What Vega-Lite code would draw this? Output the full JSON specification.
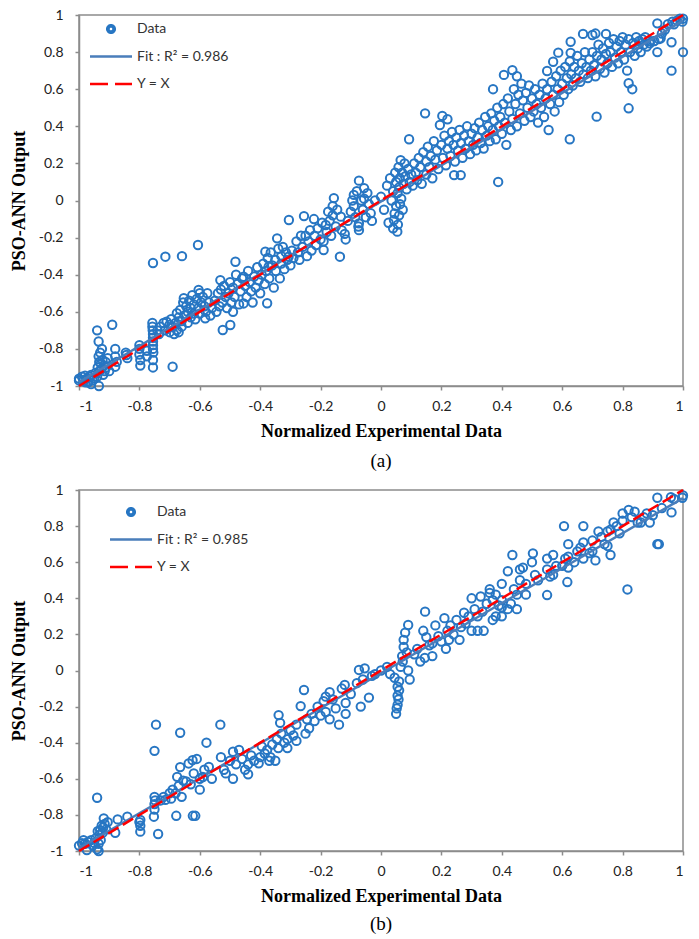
{
  "$schema": "https://vega.github.io/schema/vega-lite/v6.json",
  "background": "white",
  "padding": {"left": 9, "top": 7, "right": 5, "bottom": 5},
  "spacing": 10,
  "resolve": {"scale": {"color": "independent"}, "legend": {"color": "independent"}},
  "config": {
    "view": {"stroke": "#8c8c8c", "strokeWidth": 1.5},
    "axis": {"grid": false, "domainColor": "#8c8c8c", "domainWidth": 1.5, "tickColor": "#8c8c8c", "tickWidth": 1.5, "tickSize": 4, "labelFont": "Lato", "labelFontSize": 14, "labelColor": "#222222", "labelOverlap": false, "titleFont": "Liberation Serif", "titleFontSize": 18, "titleFontWeight": "bold", "titleColor": "#000000"},
    "axisY": {"labelOverlap": false},
    "axisQuantitative": {"labelOverlap": false},
    "title": {"font": "Liberation Serif", "fontSize": 19, "fontWeight": "normal", "color": "#000000"},
    "legend": {"orient": "none", "title": null, "symbolSize": 1764, "clipHeight": 16, "rowPadding": 11.5, "labelOffset": 3.5, "labelFont": "Lato", "labelFontSize": 14, "labelColor": "#333333", "symbolStrokeWidth": 2.5, "padding": 0}
  },
  "datasets": {
    "fitA": [{"x": -1, "y": -0.98}, {"x": 1, "y": 0.97}],
    "idA": [{"x": -1, "y": -1}, {"x": 1, "y": 1}],
    "fitB": [{"x": -1, "y": -0.985}, {"x": 1, "y": 0.955}],
    "idB": [{"x": -1, "y": -1}, {"x": 1, "y": 1}],
    "pointsA": [
      {"x":-1.0,"y":-0.97},{"x":-1.0,"y":-0.96},{"x":-0.99,"y":-0.95},{"x":-0.985,"y":-0.97},{"x":-0.98,"y":-0.945},{"x":-0.975,"y":-0.96},{"x":-0.97,"y":-0.98},{"x":-0.965,"y":-0.95},{"x":-0.96,"y":-0.94},{"x":-0.955,"y":-0.97},{"x":-0.95,"y":-0.96},{"x":-0.945,"y":-0.93},{"x":-0.94,"y":-0.95},{"x":-0.94,"y":-0.70},{"x":-0.938,"y":-0.90},{"x":-0.935,"y":-0.76},{"x":-0.935,"y":-0.84},{"x":-0.934,"y":-1.0},{"x":-0.933,"y":-0.87},{"x":-0.932,"y":-0.92},{"x":-0.93,"y":-0.82},{"x":-0.928,"y":-0.88},{"x":-0.926,"y":-0.91},{"x":-0.924,"y":-0.80},{"x":-0.922,"y":-0.86},{"x":-0.92,"y":-0.94},{"x":-0.918,"y":-0.89},{"x":-0.915,"y":-0.92},{"x":-0.912,"y":-0.87},{"x":-0.91,"y":-0.90},{"x":-0.905,"y":-0.85},{"x":-0.90,"y":-0.92},{"x":-0.96,"y":-0.99},{"x":-0.978,"y":-0.98},
      {"x":-0.89,"y":-0.67},{"x":-0.88,"y":-0.80},{"x":-0.88,"y":-0.84},{"x":-0.88,"y":-0.896},{"x":-0.875,"y":-0.87},{"x":-0.845,"y":-0.82},{"x":-0.84,"y":-0.85},{"x":-0.843,"y":-0.833},
      {"x":-0.80,"y":-0.78},{"x":-0.80,"y":-0.80},{"x":-0.80,"y":-0.83},{"x":-0.797,"y":-0.86},{"x":-0.797,"y":-0.89},{"x":-0.775,"y":-0.84},{"x":-0.775,"y":-0.81},{"x":-0.757,"y":-0.66},{"x":-0.757,"y":-0.68},{"x":-0.756,"y":-0.70},{"x":-0.755,"y":-0.72},{"x":-0.755,"y":-0.74},{"x":-0.755,"y":-0.76},{"x":-0.755,"y":-0.78},{"x":-0.755,"y":-0.80},{"x":-0.754,"y":-0.82},{"x":-0.755,"y":-0.86},{"x":-0.755,"y":-0.90},{"x":-0.755,"y":-0.337},{"x":-0.714,"y":-0.303},{"x":-0.659,"y":-0.30},{"x":-0.606,"y":-0.24},{"x":-0.69,"y":-0.896},
      {"x":-0.74,"y":-0.70},{"x":-0.735,"y":-0.72},{"x":-0.73,"y":-0.68},{"x":-0.72,"y":-0.66},{"x":-0.715,"y":-0.70},{"x":-0.71,"y":-0.653},{"x":-0.70,"y":-0.67},{"x":-0.70,"y":-0.71},{"x":-0.695,"y":-0.64},{"x":-0.69,"y":-0.68},{"x":-0.685,"y":-0.72},{"x":-0.68,"y":-0.66},{"x":-0.676,"y":-0.608},{"x":-0.676,"y":-0.698},{"x":-0.67,"y":-0.63},{"x":-0.67,"y":-0.71},{"x":-0.665,"y":-0.59},{"x":-0.66,"y":-0.65},{"x":-0.66,"y":-0.68},{"x":-0.655,"y":-0.55},{"x":-0.653,"y":-0.527},{"x":-0.65,"y":-0.62},{"x":-0.645,"y":-0.57},{"x":-0.64,"y":-0.60},{"x":-0.64,"y":-0.66},{"x":-0.635,"y":-0.54},{"x":-0.63,"y":-0.63},{"x":-0.63,"y":-0.58},{"x":-0.625,"y":-0.51},{"x":-0.62,"y":-0.56},{"x":-0.62,"y":-0.61},{"x":-0.615,"y":-0.64},{"x":-0.61,"y":-0.53},{"x":-0.605,"y":-0.58},{"x":-0.604,"y":-0.482},{"x":-0.60,"y":-0.50},{"x":-0.60,"y":-0.61},{"x":-0.595,"y":-0.55},{"x":-0.59,"y":-0.52},{"x":-0.585,"y":-0.57},{"x":-0.582,"y":-0.635},{"x":-0.58,"y":-0.60},{"x":-0.575,"y":-0.50},{"x":-0.57,"y":-0.55},{"x":-0.565,"y":-0.62},{"x":-0.56,"y":-0.58},
      {"x":-0.55,"y":-0.54},{"x":-0.545,"y":-0.60},{"x":-0.54,"y":-0.50},{"x":-0.535,"y":-0.57},{"x":-0.532,"y":-0.429},{"x":-0.53,"y":-0.48},{"x":-0.525,"y":-0.55},{"x":-0.524,"y":-0.698},{"x":-0.52,"y":-0.46},{"x":-0.515,"y":-0.52},{"x":-0.51,"y":-0.58},{"x":-0.505,"y":-0.50},{"x":-0.50,"y":-0.44},{"x":-0.499,"y":-0.671},{"x":-0.495,"y":-0.55},{"x":-0.49,"y":-0.47},{"x":-0.49,"y":-0.60},{"x":-0.485,"y":-0.52},{"x":-0.482,"y":-0.33},{"x":-0.48,"y":-0.40},{"x":-0.475,"y":-0.45},{"x":-0.47,"y":-0.56},{"x":-0.465,"y":-0.49},{"x":-0.46,"y":-0.42},{"x":-0.455,"y":-0.411},{"x":-0.455,"y":-0.555},{"x":-0.45,"y":-0.46},{"x":-0.445,"y":-0.52},{"x":-0.44,"y":-0.38},{"x":-0.435,"y":-0.44},{"x":-0.43,"y":-0.49},{"x":-0.425,"y":-0.55},{"x":-0.42,"y":-0.41},{"x":-0.415,"y":-0.47},{"x":-0.41,"y":-0.36},{"x":-0.405,"y":-0.43},{"x":-0.40,"y":-0.50},
      {"x":-0.395,"y":-0.40},{"x":-0.39,"y":-0.34},{"x":-0.385,"y":-0.45},{"x":-0.383,"y":-0.276},{"x":-0.38,"y":-0.38},{"x":-0.377,"y":-0.554},{"x":-0.375,"y":-0.31},{"x":-0.372,"y":-0.357},{"x":-0.37,"y":-0.42},{"x":-0.365,"y":-0.28},{"x":-0.36,"y":-0.35},{"x":-0.355,"y":-0.47},{"x":-0.35,"y":-0.32},{"x":-0.348,"y":-0.38},{"x":-0.344,"y":-0.204},{"x":-0.34,"y":-0.26},{"x":-0.335,"y":-0.42},{"x":-0.33,"y":-0.30},{"x":-0.33,"y":-0.34},{"x":-0.325,"y":-0.25},{"x":-0.32,"y":-0.37},{"x":-0.315,"y":-0.28},{"x":-0.31,"y":-0.32},{"x":-0.306,"y":-0.303},{"x":-0.305,"y":-0.105},{"x":-0.30,"y":-0.35},{"x":-0.295,"y":-0.27},{"x":-0.29,"y":-0.31},
      {"x":-0.28,"y":-0.22},{"x":-0.275,"y":-0.28},{"x":-0.27,"y":-0.32},{"x":-0.265,"y":-0.19},{"x":-0.26,"y":-0.25},{"x":-0.255,"y":-0.084},{"x":-0.25,"y":-0.19},{"x":-0.245,"y":-0.30},{"x":-0.24,"y":-0.22},{"x":-0.235,"y":-0.16},{"x":-0.23,"y":-0.27},{"x":-0.222,"y":-0.10},{"x":-0.22,"y":-0.19},{"x":-0.215,"y":-0.24},{"x":-0.21,"y":-0.15},{"x":-0.20,"y":-0.21},{"x":-0.195,"y":-0.12},{"x":-0.19,"y":-0.267},{"x":-0.19,"y":-0.22},{"x":-0.183,"y":-0.132},{"x":-0.18,"y":-0.17},{"x":-0.175,"y":-0.06},{"x":-0.17,"y":-0.11},{"x":-0.165,"y":-0.19},{"x":-0.16,"y":-0.08},{"x":-0.16,"y":-0.03},{"x":-0.156,"y":0.013},{"x":-0.15,"y":-0.14},
      {"x":-0.145,"y":-0.05},{"x":-0.136,"y":-0.303},{"x":-0.133,"y":-0.087},{"x":-0.13,"y":-0.16},{"x":-0.12,"y":-0.18},{"x":-0.117,"y":-0.21},{"x":-0.11,"y":-0.11},{"x":-0.10,"y":-0.06},{"x":-0.095,"y":0.0},{"x":-0.09,"y":0.03},{"x":-0.09,"y":-0.03},{"x":-0.085,"y":-0.09},{"x":-0.08,"y":0.05},{"x":-0.075,"y":-0.14},{"x":-0.073,"y":0.107},{"x":-0.073,"y":-0.123},{"x":-0.073,"y":-0.16},{"x":-0.065,"y":0.0},{"x":-0.06,"y":-0.05},{"x":-0.056,"y":0.067},{"x":-0.056,"y":0.01},{"x":-0.05,"y":-0.09},{"x":-0.045,"y":0.04},{"x":-0.04,"y":-0.02},{"x":-0.034,"y":-0.069},{"x":-0.03,"y":-0.11},{"x":-0.02,"y":0.0},
      {"x":0.0,"y":0.02},{"x":0.01,"y":-0.05},{"x":0.02,"y":0.08},{"x":0.025,"y":-0.12},{"x":0.03,"y":0.12},{"x":0.035,"y":0.0},{"x":0.04,"y":-0.15},{"x":0.04,"y":0.05},{"x":0.043,"y":-0.105},{"x":0.045,"y":-0.07},{"x":0.047,"y":0.15},{"x":0.05,"y":-0.03},{"x":0.05,"y":0.10},{"x":0.054,"y":-0.168},{"x":0.055,"y":0.04},{"x":0.056,"y":-0.13},{"x":0.058,"y":0.18},{"x":0.06,"y":-0.08},{"x":0.06,"y":0.07},{"x":0.062,"y":0.12},{"x":0.063,"y":-0.02},{"x":0.065,"y":0.218},{"x":0.067,"y":0.01},{"x":0.07,"y":0.15},{"x":0.072,"y":-0.05},{"x":0.075,"y":0.09},{"x":0.078,"y":0.20},{"x":0.08,"y":0.13},{"x":0.085,"y":0.06},{"x":0.09,"y":0.17},{"x":0.093,"y":0.33},{"x":0.095,"y":0.10},{"x":0.10,"y":0.14},
      {"x":0.105,"y":0.08},{"x":0.11,"y":0.20},{"x":0.115,"y":0.15},{"x":0.12,"y":0.11},{"x":0.125,"y":0.23},{"x":0.13,"y":0.18},{"x":0.135,"y":0.09},{"x":0.14,"y":0.26},{"x":0.146,"y":0.47},{"x":0.15,"y":0.14},{"x":0.15,"y":0.21},{"x":0.155,"y":0.29},{"x":0.16,"y":0.18},{"x":0.165,"y":0.24},{"x":0.17,"y":0.12},{"x":0.175,"y":0.32},{"x":0.18,"y":0.22},{"x":0.185,"y":0.27},{"x":0.19,"y":0.17},{"x":0.195,"y":0.407},{"x":0.20,"y":0.30},{"x":0.203,"y":0.456},{"x":0.205,"y":0.23},{"x":0.21,"y":0.35},{"x":0.215,"y":0.19},{"x":0.22,"y":0.438},{"x":0.22,"y":0.28},{"x":0.225,"y":0.32},{"x":0.23,"y":0.24},{"x":0.235,"y":0.37},{"x":0.24,"y":0.30},{"x":0.242,"y":0.137},{"x":0.245,"y":0.21},{"x":0.25,"y":0.34},{"x":0.255,"y":0.27},{"x":0.26,"y":0.38},{"x":0.264,"y":0.137},{"x":0.265,"y":0.31},{"x":0.27,"y":0.23},{"x":0.275,"y":0.35},{"x":0.28,"y":0.28},{"x":0.285,"y":0.40},{"x":0.29,"y":0.32},{"x":0.295,"y":0.25},{"x":0.30,"y":0.36},
      {"x":0.305,"y":0.30},{"x":0.31,"y":0.39},{"x":0.315,"y":0.27},{"x":0.32,"y":0.34},{"x":0.325,"y":0.42},{"x":0.33,"y":0.31},{"x":0.335,"y":0.38},{"x":0.34,"y":0.28},{"x":0.345,"y":0.45},{"x":0.35,"y":0.35},{"x":0.355,"y":0.40},{"x":0.36,"y":0.32},{"x":0.365,"y":0.47},{"x":0.37,"y":0.38},{"x":0.371,"y":0.60},{"x":0.375,"y":0.43},{"x":0.38,"y":0.33},{"x":0.388,"y":0.10},{"x":0.385,"y":0.50},{"x":0.39,"y":0.40},{"x":0.395,"y":0.45},{"x":0.40,"y":0.36},{"x":0.405,"y":0.52},{"x":0.407,"y":0.677},{"x":0.41,"y":0.42},{"x":0.415,"y":0.30},{"x":0.42,"y":0.55},{"x":0.425,"y":0.48},{"x":0.43,"y":0.38},{"x":0.435,"y":0.703},{"x":0.435,"y":0.44},{"x":0.44,"y":0.60},{"x":0.445,"y":0.52},{"x":0.45,"y":0.67},{"x":0.45,"y":0.40},{"x":0.455,"y":0.57},{"x":0.46,"y":0.47},{"x":0.465,"y":0.63},{"x":0.47,"y":0.54},{"x":0.475,"y":0.43},{"x":0.48,"y":0.58},{"x":0.485,"y":0.50},{"x":0.49,"y":0.62},{"x":0.495,"y":0.45},{"x":0.50,"y":0.55},
      {"x":0.505,"y":0.48},{"x":0.51,"y":0.60},{"x":0.515,"y":0.52},{"x":0.52,"y":0.42},{"x":0.525,"y":0.57},{"x":0.53,"y":0.50},{"x":0.535,"y":0.63},{"x":0.54,"y":0.45},{"x":0.545,"y":0.55},{"x":0.55,"y":0.698},{"x":0.55,"y":0.60},{"x":0.555,"y":0.38},{"x":0.56,"y":0.52},{"x":0.565,"y":0.64},{"x":0.57,"y":0.748},{"x":0.57,"y":0.57},{"x":0.575,"y":0.48},{"x":0.58,"y":0.67},{"x":0.585,"y":0.60},{"x":0.587,"y":0.797},{"x":0.59,"y":0.53},{"x":0.595,"y":0.70},{"x":0.60,"y":0.63},{"x":0.605,"y":0.57},{"x":0.61,"y":0.72},{"x":0.615,"y":0.66},{"x":0.62,"y":0.60},{"x":0.625,"y":0.33},{"x":0.625,"y":0.75},{"x":0.628,"y":0.856},{"x":0.628,"y":0.796},{"x":0.63,"y":0.68},{"x":0.635,"y":0.62},{"x":0.64,"y":0.72},{"x":0.645,"y":0.66},{"x":0.65,"y":0.78},{"x":0.655,"y":0.70},{"x":0.66,"y":0.64},{"x":0.665,"y":0.74},{"x":0.669,"y":0.898},{"x":0.67,"y":0.68},{"x":0.675,"y":0.80},{"x":0.68,"y":0.72},{"x":0.685,"y":0.66},{"x":0.69,"y":0.76},{"x":0.695,"y":0.70},{"x":0.70,"y":0.892},{"x":0.70,"y":0.80},
      {"x":0.705,"y":0.73},{"x":0.71,"y":0.90},{"x":0.71,"y":0.67},{"x":0.714,"y":0.452},{"x":0.715,"y":0.78},{"x":0.72,"y":0.84},{"x":0.725,"y":0.71},{"x":0.73,"y":0.76},{"x":0.735,"y":0.82},{"x":0.74,"y":0.69},{"x":0.745,"y":0.898},{"x":0.745,"y":0.79},{"x":0.75,"y":0.74},{"x":0.755,"y":0.85},{"x":0.76,"y":0.80},{"x":0.765,"y":0.72},{"x":0.77,"y":0.87},{"x":0.775,"y":0.77},{"x":0.78,"y":0.83},{"x":0.785,"y":0.74},{"x":0.79,"y":0.86},{"x":0.795,"y":0.80},{"x":0.80,"y":0.88},{"x":0.805,"y":0.76},{"x":0.81,"y":0.84},{"x":0.815,"y":0.70},{"x":0.82,"y":0.497},{"x":0.82,"y":0.632},{"x":0.82,"y":0.87},{"x":0.825,"y":0.80},{"x":0.832,"y":0.60},{"x":0.835,"y":0.85},{"x":0.84,"y":0.78},{"x":0.845,"y":0.88},{"x":0.85,"y":0.82},{"x":0.855,"y":0.86},{"x":0.86,"y":0.80},{"x":0.865,"y":0.87},{"x":0.87,"y":0.84},{"x":0.875,"y":0.88},{"x":0.88,"y":0.83},{"x":0.89,"y":0.847},{"x":0.89,"y":0.86},
      {"x":0.905,"y":0.86},{"x":0.915,"y":0.955},{"x":0.915,"y":0.80},{"x":0.92,"y":0.87},{"x":0.926,"y":0.874},{"x":0.93,"y":0.90},{"x":0.94,"y":0.92},{"x":0.95,"y":0.95},{"x":0.962,"y":0.70},{"x":0.962,"y":0.853},{"x":0.965,"y":0.964},{"x":0.97,"y":0.95},{"x":0.98,"y":0.97},{"x":0.99,"y":0.98},{"x":0.998,"y":0.964},{"x":1.0,"y":0.80},{"x":1.0,"y":0.98}
    ],
    "pointsB": [
      {"x":-1.0,"y":-0.97},{"x":-0.99,"y":-0.957},{"x":-0.985,"y":-0.94},{"x":-0.98,"y":-0.96},{"x":-0.974,"y":-0.995},{"x":-0.97,"y":-0.95},{"x":-0.96,"y":-0.94},{"x":-0.955,"y":-0.97},{"x":-0.95,"y":-0.955},{"x":-0.945,"y":-0.93},{"x":-0.94,"y":-0.99},{"x":-0.94,"y":-0.705},{"x":-0.938,"y":-0.89},{"x":-0.935,"y":-0.96},{"x":-0.932,"y":-0.91},{"x":-0.93,"y":-0.884},{"x":-0.928,"y":-0.94},{"x":-0.925,"y":-0.86},{"x":-0.922,"y":-0.90},{"x":-0.92,"y":-0.87},{"x":-0.918,"y":-0.819},{"x":-0.915,"y":-0.85},{"x":-0.91,"y":-0.88},{"x":-0.905,"y":-0.84},{"x":-0.935,"y":-1.0},
      {"x":-0.88,"y":-0.899},{"x":-0.872,"y":-0.825},{"x":-0.84,"y":-0.81},{"x":-0.797,"y":-0.828},{"x":-0.797,"y":-0.86},{"x":-0.797,"y":-0.893},{"x":-0.80,"y":-0.84},{"x":-0.738,"y":-0.906},{"x":-0.75,"y":-0.70},{"x":-0.75,"y":-0.74},{"x":-0.75,"y":-0.77},{"x":-0.752,"y":-0.81},{"x":-0.748,"y":-0.72},{"x":-0.745,"y":-0.30},{"x":-0.75,"y":-0.445},{"x":-0.665,"y":-0.345},{"x":-0.578,"y":-0.40},{"x":-0.532,"y":-0.30},{"x":-0.678,"y":-0.805},{"x":-0.623,"y":-0.805},{"x":-0.615,"y":-0.805},
      {"x":-0.73,"y":-0.72},{"x":-0.72,"y":-0.70},{"x":-0.714,"y":-0.717},{"x":-0.70,"y":-0.68},{"x":-0.695,"y":-0.71},{"x":-0.69,"y":-0.66},{"x":-0.68,"y":-0.68},{"x":-0.675,"y":-0.589},{"x":-0.67,"y":-0.64},{"x":-0.665,"y":-0.535},{"x":-0.66,"y":-0.70},{"x":-0.655,"y":-0.61},{"x":-0.645,"y":-0.615},{"x":-0.637,"y":-0.515},{"x":-0.63,"y":-0.63},{"x":-0.624,"y":-0.497},{"x":-0.62,"y":-0.57},{"x":-0.61,"y":-0.49},{"x":-0.60,"y":-0.66},{"x":-0.60,"y":-0.60},{"x":-0.59,"y":-0.59},{"x":-0.585,"y":-0.55},{"x":-0.57,"y":-0.534},{"x":-0.56,"y":-0.60},
      {"x":-0.53,"y":-0.48},{"x":-0.52,"y":-0.55},{"x":-0.514,"y":-0.57},{"x":-0.50,"y":-0.50},{"x":-0.49,"y":-0.60},{"x":-0.49,"y":-0.45},{"x":-0.48,"y":-0.52},{"x":-0.47,"y":-0.44},{"x":-0.46,"y":-0.49},{"x":-0.45,"y":-0.55},{"x":-0.44,"y":-0.52},{"x":-0.44,"y":-0.575},{"x":-0.43,"y":-0.47},{"x":-0.42,"y":-0.50},{"x":-0.405,"y":-0.514},{"x":-0.40,"y":-0.48},{"x":-0.395,"y":-0.42},
      {"x":-0.385,"y":-0.46},{"x":-0.377,"y":-0.44},{"x":-0.37,"y":-0.50},{"x":-0.366,"y":-0.48},{"x":-0.36,"y":-0.41},{"x":-0.35,"y":-0.50},{"x":-0.345,"y":-0.38},{"x":-0.34,"y":-0.43},{"x":-0.339,"y":-0.247},{"x":-0.334,"y":-0.29},{"x":-0.33,"y":-0.35},{"x":-0.32,"y":-0.40},{"x":-0.31,"y":-0.43},{"x":-0.31,"y":-0.38},{"x":-0.30,"y":-0.33},{"x":-0.29,"y":-0.36},{"x":-0.28,"y":-0.39},{"x":-0.28,"y":-0.30},
      {"x":-0.266,"y":-0.197},{"x":-0.255,"y":-0.108},{"x":-0.25,"y":-0.35},{"x":-0.245,"y":-0.27},{"x":-0.238,"y":-0.32},{"x":-0.23,"y":-0.24},{"x":-0.22,"y":-0.28},{"x":-0.21,"y":-0.20},{"x":-0.20,"y":-0.25},{"x":-0.19,"y":-0.17},{"x":-0.183,"y":-0.145},{"x":-0.183,"y":-0.23},{"x":-0.17,"y":-0.12},{"x":-0.17,"y":-0.27},{"x":-0.16,"y":-0.16},{"x":-0.15,"y":-0.21},{"x":-0.139,"y":-0.30},{"x":-0.13,"y":-0.10},{"x":-0.12,"y":-0.08},{"x":-0.117,"y":-0.18},{"x":-0.117,"y":-0.24},{"x":-0.10,"y":-0.13},
      {"x":-0.08,"y":-0.07},{"x":-0.073,"y":0.003},{"x":-0.067,"y":-0.20},{"x":-0.06,"y":-0.05},{"x":-0.054,"y":0.012},{"x":-0.04,"y":-0.15},{"x":-0.03,"y":-0.03},{"x":-0.02,"y":-0.02},{"x":0.0,"y":0.0},{"x":0.02,"y":0.02},{"x":0.03,"y":-0.02},
      {"x":0.045,"y":-0.04},{"x":0.05,"y":-0.24},{"x":0.052,"y":-0.21},{"x":0.055,"y":-0.19},{"x":0.055,"y":-0.14},{"x":0.055,"y":-0.09},{"x":0.058,"y":-0.16},{"x":0.06,"y":-0.11},{"x":0.06,"y":-0.06},{"x":0.065,"y":0.02},{"x":0.07,"y":0.08},{"x":0.072,"y":0.05},{"x":0.075,"y":0.13},{"x":0.075,"y":0.17},{"x":0.08,"y":0.21},{"x":0.09,"y":0.252},{"x":0.09,"y":0.0},{"x":0.095,"y":-0.05},{"x":0.085,"y":0.10},
      {"x":0.11,"y":0.09},{"x":0.12,"y":0.12},{"x":0.13,"y":0.05},{"x":0.14,"y":0.22},{"x":0.145,"y":0.07},{"x":0.146,"y":0.326},{"x":0.15,"y":0.185},{"x":0.16,"y":0.14},{"x":0.17,"y":0.15},{"x":0.17,"y":0.08},{"x":0.18,"y":0.25},{"x":0.19,"y":0.19},{"x":0.20,"y":0.16},{"x":0.21,"y":0.29},{"x":0.215,"y":0.12},{"x":0.22,"y":0.22},{"x":0.225,"y":0.17},{"x":0.23,"y":0.25},{"x":0.24,"y":0.20},{"x":0.25,"y":0.28},{"x":0.26,"y":0.17},{"x":0.265,"y":0.24},{"x":0.275,"y":0.32},{"x":0.28,"y":0.26},{"x":0.29,"y":0.30},{"x":0.30,"y":0.22},{"x":0.30,"y":0.40},
      {"x":0.31,"y":0.34},{"x":0.32,"y":0.30},{"x":0.32,"y":0.22},{"x":0.33,"y":0.41},{"x":0.336,"y":0.326},{"x":0.34,"y":0.22},{"x":0.35,"y":0.37},{"x":0.36,"y":0.45},{"x":0.36,"y":0.43},{"x":0.37,"y":0.28},{"x":0.37,"y":0.39},{"x":0.38,"y":0.42},{"x":0.38,"y":0.30},{"x":0.39,"y":0.36},{"x":0.40,"y":0.48},{"x":0.40,"y":0.39},{"x":0.40,"y":0.35},{"x":0.40,"y":0.30},{"x":0.42,"y":0.55},{"x":0.42,"y":0.34},{"x":0.43,"y":0.37},{"x":0.435,"y":0.64},{"x":0.44,"y":0.45},{"x":0.45,"y":0.42},{"x":0.45,"y":0.34},{"x":0.46,"y":0.56},{"x":0.46,"y":0.50},{"x":0.47,"y":0.57},{"x":0.48,"y":0.48},{"x":0.48,"y":0.42},{"x":0.50,"y":0.60},{"x":0.503,"y":0.649},
      {"x":0.51,"y":0.53},{"x":0.52,"y":0.50},{"x":0.55,"y":0.62},{"x":0.55,"y":0.56},{"x":0.55,"y":0.418},{"x":0.56,"y":0.52},{"x":0.57,"y":0.64},{"x":0.57,"y":0.53},{"x":0.58,"y":0.58},{"x":0.60,"y":0.58},{"x":0.606,"y":0.80},{"x":0.61,"y":0.62},{"x":0.617,"y":0.49},{"x":0.62,"y":0.70},{"x":0.62,"y":0.63},{"x":0.62,"y":0.57},{"x":0.64,"y":0.60},{"x":0.65,"y":0.66},{"x":0.66,"y":0.68},{"x":0.67,"y":0.71},{"x":0.67,"y":0.62},{"x":0.67,"y":0.80},{"x":0.69,"y":0.65},{"x":0.70,"y":0.66},{"x":0.70,"y":0.72},
      {"x":0.71,"y":0.61},{"x":0.72,"y":0.77},{"x":0.73,"y":0.74},{"x":0.74,"y":0.70},{"x":0.75,"y":0.77},{"x":0.75,"y":0.69},{"x":0.76,"y":0.64},{"x":0.76,"y":0.78},{"x":0.77,"y":0.82},{"x":0.78,"y":0.80},{"x":0.79,"y":0.76},{"x":0.80,"y":0.87},{"x":0.80,"y":0.83},{"x":0.816,"y":0.449},{"x":0.82,"y":0.89},{"x":0.83,"y":0.85},{"x":0.84,"y":0.88},{"x":0.85,"y":0.82},{"x":0.86,"y":0.82},{"x":0.87,"y":0.85},{"x":0.88,"y":0.87},{"x":0.89,"y":0.82},{"x":0.90,"y":0.86},{"x":0.915,"y":0.957},{"x":0.915,"y":0.70},{"x":0.92,"y":0.70},{"x":0.93,"y":0.90},{"x":0.96,"y":0.96},{"x":0.962,"y":0.876},{"x":0.97,"y":0.95},{"x":0.998,"y":0.957},{"x":1.0,"y":0.97}
    ]
  },
  "vconcat": [
    {
      "width": 604, "height": 371,
      "title": {"text": "(a)", "orient": "bottom", "offset": 12},
      "encoding": {
        "x": {"field": "x", "type": "quantitative", "scale": {"domain": [-1, 1], "nice": false, "zero": false},
              "axis": {"title": "Normalized Experimental Data", "values": [-1, -0.8, -0.6, -0.4, -0.2, 0, 0.2, 0.4, 0.6, 0.8, 1], "labelOverlap": false, "labelPadding": 9, "titlePadding": 9,
                       "labelExpr": "datum.value == 0 ? '0' : (datum.value < 0 ? '-' : '') + format(abs(datum.value), '~g')"}},
        "y": {"field": "y", "type": "quantitative", "scale": {"domain": [-1, 1], "nice": false, "zero": false},
              "axis": {"title": "PSO-ANN Output", "values": [-1, -0.8, -0.6, -0.4, -0.2, 0, 0.2, 0.4, 0.6, 0.8, 1], "labelOverlap": false, "labelPadding": 12, "titlePadding": 10,
                       "labelExpr": "datum.value == 0 ? '0' : (datum.value < 0 ? '-' : '') + format(abs(datum.value), '~g')"}}
      },
      "layer": [
        {
          "data": {"name": "pointsA"},
          "mark": {"type": "point", "shape": "circle", "filled": false, "size": 70, "strokeWidth": 2, "opacity": 1},
          "encoding": {
            "color": {"datum": "Data", "type": "nominal",
                      "scale": {"domain": ["Data", "Fit :  R² = 0.986", "Y = X"], "range": ["#2776C3", "#4A7EBB", "#FF0000"]},
                      "legend": {"legendX": 9.5, "legendY": 6,
                                 "encode": {"symbols": {"update": {
                                   "shape": {"signal": "datum.value === 'Data' ? 'M0.18,0A0.18,0.18 0 1 1 -0.18,0A0.18,0.18 0 1 1 0.18,0ZM0.12,0A0.12,0.12 0 1 0 -0.12,0A0.12,0.12 0 1 0 0.12,0Z' : 'stroke'"},
                                   "fill": {"signal": "datum.value === 'Data' ? '#5B9BD5' : 'transparent'"},
                                   "stroke": {"signal": "datum.value === 'Data' ? 'transparent' : (datum.value === 'Y = X' ? '#FF0000' : '#4A7EBB')"},
                                   "strokeDash": {"signal": "datum.value === 'Y = X' ? [18, 7] : [1, 0]"},
                                   "opacity": {"value": 1}
                                 }}}}}
          }
        },
        {
          "data": {"name": "fitA"},
          "mark": {"type": "line", "strokeWidth": 2.5},
          "encoding": {"color": {"datum": "Fit :  R² = 0.986", "type": "nominal",
                                 "legend": {"legendX": 9.5, "legendY": 6,
                                 "encode": {"symbols": {"update": {
                                   "shape": {"signal": "datum.value === 'Data' ? 'M0.18,0A0.18,0.18 0 1 1 -0.18,0A0.18,0.18 0 1 1 0.18,0ZM0.12,0A0.12,0.12 0 1 0 -0.12,0A0.12,0.12 0 1 0 0.12,0Z' : 'stroke'"},
                                   "fill": {"signal": "datum.value === 'Data' ? '#5B9BD5' : 'transparent'"},
                                   "stroke": {"signal": "datum.value === 'Data' ? 'transparent' : (datum.value === 'Y = X' ? '#FF0000' : '#4A7EBB')"},
                                   "strokeDash": {"signal": "datum.value === 'Y = X' ? [18, 7] : [1, 0]"},
                                   "opacity": {"value": 1}
                                 }}}}}}
        },
        {
          "data": {"name": "idA"},
          "mark": {"type": "line", "strokeWidth": 2.5, "strokeDash": [12, 5]},
          "encoding": {"color": {"datum": "Y = X", "type": "nominal",
                                 "legend": {"legendX": 9.5, "legendY": 6,
                                 "encode": {"symbols": {"update": {
                                   "shape": {"signal": "datum.value === 'Data' ? 'M0.18,0A0.18,0.18 0 1 1 -0.18,0A0.18,0.18 0 1 1 0.18,0ZM0.12,0A0.12,0.12 0 1 0 -0.12,0A0.12,0.12 0 1 0 0.12,0Z' : 'stroke'"},
                                   "fill": {"signal": "datum.value === 'Data' ? '#5B9BD5' : 'transparent'"},
                                   "stroke": {"signal": "datum.value === 'Data' ? 'transparent' : (datum.value === 'Y = X' ? '#FF0000' : '#4A7EBB')"},
                                   "strokeDash": {"signal": "datum.value === 'Y = X' ? [18, 7] : [1, 0]"},
                                   "opacity": {"value": 1}
                                 }}}}}}
        }
      ]
    },
    {
      "width": 604, "height": 361,
      "title": {"text": "(b)", "orient": "bottom", "offset": 10},
      "encoding": {
        "x": {"field": "x", "type": "quantitative", "scale": {"domain": [-1, 1], "nice": false, "zero": false},
              "axis": {"title": "Normalized Experimental Data", "values": [-1, -0.8, -0.6, -0.4, -0.2, 0, 0.2, 0.4, 0.6, 0.8, 1], "labelOverlap": false, "labelPadding": 9, "titlePadding": 9,
                       "labelExpr": "datum.value == 0 ? '0' : (datum.value < 0 ? '-' : '') + format(abs(datum.value), '~g')"}},
        "y": {"field": "y", "type": "quantitative", "scale": {"domain": [-1, 1], "nice": false, "zero": false},
              "axis": {"title": "PSO-ANN Output", "values": [-1, -0.8, -0.6, -0.4, -0.2, 0, 0.2, 0.4, 0.6, 0.8, 1], "labelOverlap": false, "labelPadding": 12, "titlePadding": 10,
                       "labelExpr": "datum.value == 0 ? '0' : (datum.value < 0 ? '-' : '') + format(abs(datum.value), '~g')"}}
      },
      "layer": [
        {
          "data": {"name": "pointsB"},
          "mark": {"type": "point", "shape": "circle", "filled": false, "size": 70, "strokeWidth": 2, "opacity": 1},
          "encoding": {
            "color": {"datum": "Data", "type": "nominal",
                      "scale": {"domain": ["Data", "Fit :  R² = 0.985", "Y = X"], "range": ["#2776C3", "#4A7EBB", "#FF0000"]},
                      "legend": {"legendX": 29.5, "legendY": 14,
                                 "encode": {"symbols": {"update": {
                                   "shape": {"signal": "datum.value === 'Data' ? 'M0.18,0A0.18,0.18 0 1 1 -0.18,0A0.18,0.18 0 1 1 0.18,0ZM0.12,0A0.12,0.12 0 1 0 -0.12,0A0.12,0.12 0 1 0 0.12,0Z' : 'stroke'"},
                                   "fill": {"signal": "datum.value === 'Data' ? '#5B9BD5' : 'transparent'"},
                                   "stroke": {"signal": "datum.value === 'Data' ? 'transparent' : (datum.value === 'Y = X' ? '#FF0000' : '#4A7EBB')"},
                                   "strokeDash": {"signal": "datum.value === 'Y = X' ? [18, 7] : [1, 0]"},
                                   "opacity": {"value": 1}
                                 }}}}}
          }
        },
        {
          "data": {"name": "fitB"},
          "mark": {"type": "line", "strokeWidth": 2.5},
          "encoding": {"color": {"datum": "Fit :  R² = 0.985", "type": "nominal",
                                 "legend": {"legendX": 29.5, "legendY": 14,
                                 "encode": {"symbols": {"update": {
                                   "shape": {"signal": "datum.value === 'Data' ? 'M0.18,0A0.18,0.18 0 1 1 -0.18,0A0.18,0.18 0 1 1 0.18,0ZM0.12,0A0.12,0.12 0 1 0 -0.12,0A0.12,0.12 0 1 0 0.12,0Z' : 'stroke'"},
                                   "fill": {"signal": "datum.value === 'Data' ? '#5B9BD5' : 'transparent'"},
                                   "stroke": {"signal": "datum.value === 'Data' ? 'transparent' : (datum.value === 'Y = X' ? '#FF0000' : '#4A7EBB')"},
                                   "strokeDash": {"signal": "datum.value === 'Y = X' ? [18, 7] : [1, 0]"},
                                   "opacity": {"value": 1}
                                 }}}}}}
        },
        {
          "data": {"name": "idB"},
          "mark": {"type": "line", "strokeWidth": 2.5, "strokeDash": [12, 5]},
          "encoding": {"color": {"datum": "Y = X", "type": "nominal",
                                 "legend": {"legendX": 29.5, "legendY": 14,
                                 "encode": {"symbols": {"update": {
                                   "shape": {"signal": "datum.value === 'Data' ? 'M0.18,0A0.18,0.18 0 1 1 -0.18,0A0.18,0.18 0 1 1 0.18,0ZM0.12,0A0.12,0.12 0 1 0 -0.12,0A0.12,0.12 0 1 0 0.12,0Z' : 'stroke'"},
                                   "fill": {"signal": "datum.value === 'Data' ? '#5B9BD5' : 'transparent'"},
                                   "stroke": {"signal": "datum.value === 'Data' ? 'transparent' : (datum.value === 'Y = X' ? '#FF0000' : '#4A7EBB')"},
                                   "strokeDash": {"signal": "datum.value === 'Y = X' ? [18, 7] : [1, 0]"},
                                   "opacity": {"value": 1}
                                 }}}}}}
        }
      ]
    }
  ]
}
